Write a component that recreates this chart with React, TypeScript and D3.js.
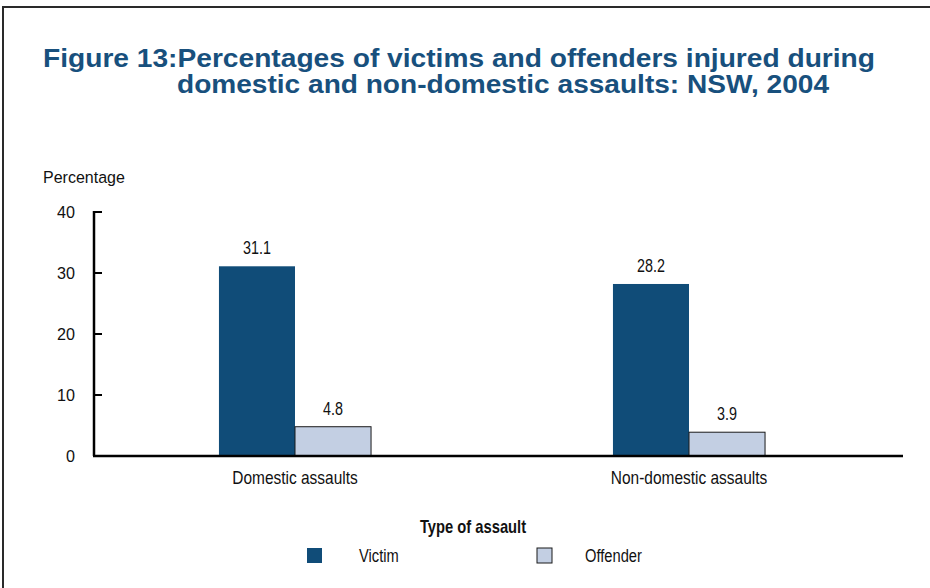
import * as d3 from "d3";
import React from "react";

const categories = ["Domestic assaults", "Non-domestic assaults"];
const seriesNames = ["Victim", "Offender"];
const victimValues = [31.1, 28.2];
const offenderValues = [4.8, 3.9];
const yTicks = [0, 10, 20, 30, 40];

const colors: Record<string, string> = { Victim: "#104c78", Offender: "#c3cfe3" };
const regular = "'Liberation Sans', Arial, sans-serif";
const titleColor = "#18507d";

// no narrow font installed, so squeeze Liberation Sans horizontally
const NText = ({ x, y, anchor = "start", size = 17.5, bold = false, sx = 0.82, children }: any) => (
  <text transform={`translate(${x},${y}) scale(${sx},1)`} textAnchor={anchor} fontFamily={regular}
    fontSize={size} fontWeight={bold ? "bold" : "normal"} fill="#111">{children}</text>
);

export default function App() {
  const width = 930;
  const height = 588;
  const margin = { top: 212, bottom: 456, left: 94, right: 903 };

  const y = d3.scaleLinear().domain([0, 40]).range([margin.bottom, margin.top]);
  // bars sit slightly left of the axis-line centre in the original
  const x0 = d3.scaleBand().domain(categories).range([98, 886]).paddingInner(0.614).paddingOuter(0.307);
  const x1 = d3.scaleBand().domain(seriesNames).range([0, x0.bandwidth()]);

  const rows = categories.map((c, i) => ({ cat: c, Victim: victimValues[i], Offender: offenderValues[i] }));

  return (
    <svg width={width} height={height} style={{ position: "absolute", left: 0, top: 0, background: "#fff" }}>
      {/* frame */}
      <path d={`M3,${height} L3,7 L${width},7`} fill="none" stroke="#2a2a2a" strokeWidth={2} />

      {/* title */}
      <text x={43} y={67} fontFamily={regular} fontWeight="bold" fontSize={25} fill={titleColor}
        textLength={832} lengthAdjust="spacingAndGlyphs">
        Figure 13:Percentages of victims and offenders injured during
      </text>
      <text x={177} y={93} fontFamily={regular} fontWeight="bold" fontSize={25} fill={titleColor}
        textLength={652} lengthAdjust="spacingAndGlyphs">
        domestic and non-domestic assaults: NSW, 2004
      </text>

      {/* y axis */}
      <NText x={43} y={183} size={16.5} sx={0.97}>Percentage</NText>
      <line x1={margin.left} x2={margin.left} y1={y(40) - 1} y2={margin.bottom} stroke="#000" strokeWidth={2.5} />
      {yTicks.map((t) => (
        <g key={t}>
          {t > 0 && <line x1={margin.left} x2={margin.left + 8} y1={y(t)} y2={y(t)} stroke="#000" strokeWidth={2} />}
          <NText x={75} y={y(t) + 6} anchor="end" size={17} sx={0.95}>{t}</NText>
        </g>
      ))}

      {/* bars */}
      {rows.map((r) => (
        <g key={r.cat} transform={`translate(${x0(r.cat)},0)`}>
          {seriesNames.map((s) => {
            const v = (r as any)[s] as number;
            return (
              <g key={s}>
                <rect x={x1(s)} y={y(v)} width={x1.bandwidth()} height={y(0) - y(v)}
                  fill={colors[s]} stroke={s === "Offender" ? "#1a1a1a" : "none"} strokeWidth={1} />
                <NText x={(x1(s) as number) + x1.bandwidth() / 2} y={y(v) - 12} anchor="middle">{v.toFixed(1)}</NText>
              </g>
            );
          })}
          <NText x={x0.bandwidth() / 2} y={484} anchor="middle" size={18} sx={0.86}>{r.cat}</NText>
        </g>
      ))}

      {/* x axis line */}
      <line x1={margin.left - 1} x2={margin.right} y1={margin.bottom} y2={margin.bottom} stroke="#000" strokeWidth={2.5} />

      {/* legend */}
      <NText x={473} y={533} anchor="middle" size={18} bold>Type of assault</NText>
      {seriesNames.map((s, i) => {
        const lx = [307, 537][i];
        const tx = [359, 585][i];
        return (
          <g key={s}>
            <rect x={lx} y={548} width={15} height={15} fill={colors[s]} stroke={s === "Offender" ? "#1a1a1a" : "none"} />
            <NText x={tx} y={562} size={17.5} sx={0.84}>{s}</NText>
          </g>
        );
      })}
    </svg>
  );
}
